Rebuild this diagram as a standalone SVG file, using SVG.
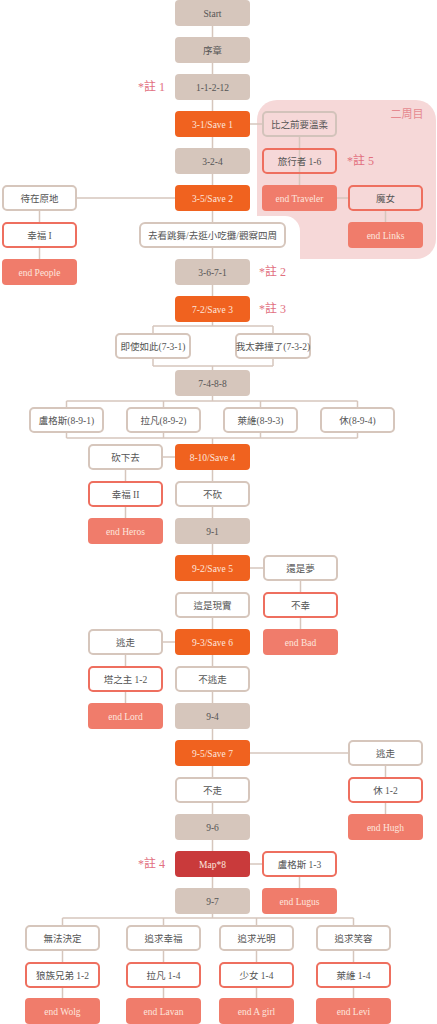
<svg xmlns="http://www.w3.org/2000/svg" width="437" height="1024" viewBox="0 0 437 1024">
<style>
.t{font-family:"Liberation Serif","Noto Sans CJK TC",serif;font-size:9.5px;text-anchor:middle;fill:#555}
.tw{font-family:"Liberation Serif","Noto Sans CJK TC",serif;font-size:9.5px;text-anchor:middle;fill:#fde6de}
.bg{fill:#d6c6bc}
.sv{fill:#f0621f}
.mp{fill:#c93a3b}
.ch{fill:#fff;stroke:#d6c6bc;stroke-width:2}
.chp{fill:none;stroke:#d3c3bb;stroke-width:2}
.ok{fill:#fff;stroke:#ee6f5f;stroke-width:2}
.okp{fill:none;stroke:#ee6f5f;stroke-width:2}
.en{fill:#f07c6b}
.note{font-family:"Liberation Serif","Noto Sans CJK TC",serif;font-size:12px;fill:#e2707f}
.c line,.c path{stroke:#d6c6bc;stroke-width:1.5;fill:none}
</style>
<rect width="437" height="1024" fill="#fff"/>
<g id="round2">
<rect x="257" y="100" width="179" height="159" rx="20" fill="#f6d8d8"/>
<rect x="240" y="216" width="60" height="60" rx="15" fill="#fff"/>
<text x="407" y="118" class="note" style="font-size:11px;fill:#e58a90" text-anchor="middle">二周目</text>
</g>
<g class="c" id="connectors">
<line x1="212.5" y1="26" x2="212.5" y2="326"/>
<line x1="153" y1="326" x2="273" y2="326"/>
<line x1="153" y1="326" x2="153" y2="333"/>
<line x1="273" y1="326" x2="273" y2="333"/>
<line x1="153" y1="359" x2="153" y2="366"/>
<line x1="273" y1="359" x2="273" y2="366"/>
<line x1="153" y1="366" x2="273" y2="366"/>
<line x1="212.5" y1="366" x2="212.5" y2="401"/>
<line x1="66.5" y1="401" x2="357.5" y2="401"/>
<line x1="66.5" y1="401" x2="66.5" y2="407"/>
<line x1="163.5" y1="401" x2="163.5" y2="407"/>
<line x1="260.5" y1="401" x2="260.5" y2="407"/>
<line x1="357.5" y1="401" x2="357.5" y2="407"/>
<line x1="66.5" y1="433" x2="66.5" y2="438"/>
<line x1="163.5" y1="433" x2="163.5" y2="438"/>
<line x1="260.5" y1="433" x2="260.5" y2="438"/>
<line x1="357.5" y1="433" x2="357.5" y2="438"/>
<line x1="66.5" y1="438" x2="357.5" y2="438"/>
<line x1="212.5" y1="438" x2="212.5" y2="918"/>
<line x1="62.5" y1="918" x2="353.5" y2="918"/>
<line x1="62.5" y1="918" x2="62.5" y2="999"/>
<line x1="163.5" y1="918" x2="163.5" y2="999"/>
<line x1="256.5" y1="918" x2="256.5" y2="999"/>
<line x1="353.5" y1="918" x2="353.5" y2="999"/>
<line x1="250" y1="124" x2="262" y2="124"/>
<line x1="299.5" y1="137" x2="299.5" y2="185"/>
<line x1="337" y1="198" x2="348" y2="198"/>
<line x1="385.5" y1="211" x2="385.5" y2="222"/>
<line x1="77" y1="198" x2="175" y2="198"/>
<line x1="39.5" y1="211" x2="39.5" y2="259"/>
<line x1="163" y1="457" x2="175" y2="457"/>
<line x1="125.5" y1="470" x2="125.5" y2="518"/>
<line x1="250" y1="568" x2="263" y2="568"/>
<line x1="300.5" y1="581" x2="300.5" y2="629"/>
<line x1="163" y1="642" x2="175" y2="642"/>
<line x1="125.5" y1="655" x2="125.5" y2="703"/>
<line x1="250" y1="753" x2="348" y2="753"/>
<line x1="385.5" y1="766" x2="385.5" y2="814"/>
<line x1="250" y1="864" x2="262" y2="864"/>
<line x1="299.5" y1="877" x2="299.5" y2="888"/>
</g>
<g id="n-start"><rect x="175" y="0" width="75" height="26" rx="4" class="bg"/><text x="212.5" y="16.5" class="t">Start</text></g>
<g id="n-prologue"><rect x="175" y="37" width="75" height="26" rx="4" class="bg"/><text x="212.5" y="53.5" class="t">序章</text></g>
<g id="n-1-1-2-12"><rect x="175" y="74" width="75" height="26" rx="4" class="bg"/><text x="212.5" y="90.5" class="t">1-1-2-12</text></g>
<g id="n-save1"><rect x="175" y="111" width="75" height="26" rx="4" class="sv"/><text x="212.5" y="127.5" class="tw">3-1/Save 1</text></g>
<g id="n-gentle"><rect x="263" y="112" width="73" height="24" rx="4" class="chp"/><text x="299.5" y="127.5" class="t">比之前要溫柔</text></g>
<g id="n-3-2-4"><rect x="175" y="148" width="75" height="26" rx="4" class="bg"/><text x="212.5" y="164.5" class="t">3-2-4</text></g>
<g id="n-traveler16"><rect x="263" y="149" width="73" height="24" rx="4" class="okp"/><text x="299.5" y="164.5" class="t">旅行者 1-6</text></g>
<g id="n-stay"><rect x="3" y="186" width="73" height="24" rx="4" class="ch"/><text x="39.5" y="201.5" class="t">待在原地</text></g>
<g id="n-save2"><rect x="175" y="185" width="75" height="26" rx="4" class="sv"/><text x="212.5" y="201.5" class="tw">3-5/Save 2</text></g>
<g id="n-end-traveler"><rect x="262" y="185" width="75" height="26" rx="4" class="en"/><text x="299.5" y="201.5" class="tw">end Traveler</text></g>
<g id="n-witch"><rect x="349" y="186" width="73" height="24" rx="4" class="okp"/><text x="385.5" y="201.5" class="t">魔女</text></g>
<g id="n-happy1"><rect x="3" y="223" width="73" height="24" rx="4" class="ok"/><text x="39.5" y="238.5" class="t">幸福 I</text></g>
<g id="n-dance"><rect x="140" y="223" width="145" height="24" rx="5" class="ch"/><text x="212.5" y="238.5" class="t">去看跳舞/去逛小吃攤/觀察四周</text></g>
<g id="n-end-links"><rect x="348" y="222" width="75" height="26" rx="4" class="en"/><text x="385.5" y="238.5" class="tw">end Links</text></g>
<g id="n-end-people"><rect x="2" y="259" width="75" height="26" rx="4" class="en"/><text x="39.5" y="275.5" class="tw">end People</text></g>
<g id="n-3-6-7-1"><rect x="175" y="259" width="75" height="26" rx="4" class="bg"/><text x="212.5" y="275.5" class="t">3-6-7-1</text></g>
<g id="n-save3"><rect x="175" y="296" width="75" height="26" rx="4" class="sv"/><text x="212.5" y="312.5" class="tw">7-2/Save 3</text></g>
<g id="n-7-3-1"><rect x="116" y="334" width="74" height="24" rx="4" class="ch"/><text x="153" y="349.5" class="t">即使如此(7-3-1)</text></g>
<g id="n-7-3-2"><rect x="236" y="334" width="74" height="24" rx="4" class="ch"/><text x="273" y="349.5" class="t">我太莽撞了(7-3-2)</text></g>
<g id="n-7-4-8-8"><rect x="175" y="370" width="75" height="26" rx="4" class="bg"/><text x="212.5" y="386.5" class="t">7-4-8-8</text></g>
<g id="n-8-9-1"><rect x="30" y="408" width="73" height="24" rx="4" class="ch"/><text x="66.5" y="423.5" class="t">盧格斯(8-9-1)</text></g>
<g id="n-8-9-2"><rect x="127" y="408" width="73" height="24" rx="4" class="ch"/><text x="163.5" y="423.5" class="t">拉凡(8-9-2)</text></g>
<g id="n-8-9-3"><rect x="224" y="408" width="73" height="24" rx="4" class="ch"/><text x="260.5" y="423.5" class="t">萊維(8-9-3)</text></g>
<g id="n-8-9-4"><rect x="321" y="408" width="73" height="24" rx="4" class="ch"/><text x="357.5" y="423.5" class="t">休(8-9-4)</text></g>
<g id="n-cut"><rect x="89" y="445" width="73" height="24" rx="4" class="ch"/><text x="125.5" y="460.5" class="t">砍下去</text></g>
<g id="n-save4"><rect x="175" y="444" width="75" height="26" rx="4" class="sv"/><text x="212.5" y="460.5" class="tw">8-10/Save 4</text></g>
<g id="n-happy2"><rect x="89" y="482" width="73" height="24" rx="4" class="ok"/><text x="125.5" y="497.5" class="t">幸福 II</text></g>
<g id="n-nocut"><rect x="176" y="482" width="73" height="24" rx="4" class="ch"/><text x="212.5" y="497.5" class="t">不砍</text></g>
<g id="n-end-heros"><rect x="88" y="518" width="75" height="26" rx="4" class="en"/><text x="125.5" y="534.5" class="tw">end Heros</text></g>
<g id="n-9-1"><rect x="175" y="518" width="75" height="26" rx="4" class="bg"/><text x="212.5" y="534.5" class="t">9-1</text></g>
<g id="n-save5"><rect x="175" y="555" width="75" height="26" rx="4" class="sv"/><text x="212.5" y="571.5" class="tw">9-2/Save 5</text></g>
<g id="n-dream"><rect x="264" y="556" width="73" height="24" rx="4" class="ch"/><text x="300.5" y="571.5" class="t">還是夢</text></g>
<g id="n-real"><rect x="176" y="593" width="73" height="24" rx="4" class="ch"/><text x="212.5" y="608.5" class="t">這是現實</text></g>
<g id="n-unhappy"><rect x="264" y="593" width="73" height="24" rx="4" class="ok"/><text x="300.5" y="608.5" class="t">不幸</text></g>
<g id="n-flee1"><rect x="89" y="630" width="73" height="24" rx="4" class="ch"/><text x="125.5" y="645.5" class="t">逃走</text></g>
<g id="n-save6"><rect x="175" y="629" width="75" height="26" rx="4" class="sv"/><text x="212.5" y="645.5" class="tw">9-3/Save 6</text></g>
<g id="n-end-bad"><rect x="263" y="629" width="75" height="26" rx="4" class="en"/><text x="300.5" y="645.5" class="tw">end Bad</text></g>
<g id="n-tower"><rect x="89" y="667" width="73" height="24" rx="4" class="ok"/><text x="125.5" y="682.5" class="t">塔之主 1-2</text></g>
<g id="n-noflee"><rect x="176" y="667" width="73" height="24" rx="4" class="ch"/><text x="212.5" y="682.5" class="t">不逃走</text></g>
<g id="n-end-lord"><rect x="88" y="703" width="75" height="26" rx="4" class="en"/><text x="125.5" y="719.5" class="tw">end Lord</text></g>
<g id="n-9-4"><rect x="175" y="703" width="75" height="26" rx="4" class="bg"/><text x="212.5" y="719.5" class="t">9-4</text></g>
<g id="n-save7"><rect x="175" y="740" width="75" height="26" rx="4" class="sv"/><text x="212.5" y="756.5" class="tw">9-5/Save 7</text></g>
<g id="n-flee2"><rect x="349" y="741" width="73" height="24" rx="4" class="ch"/><text x="385.5" y="756.5" class="t">逃走</text></g>
<g id="n-nogo"><rect x="176" y="778" width="73" height="24" rx="4" class="ch"/><text x="212.5" y="793.5" class="t">不走</text></g>
<g id="n-hugh12"><rect x="349" y="778" width="73" height="24" rx="4" class="ok"/><text x="385.5" y="793.5" class="t">休 1-2</text></g>
<g id="n-9-6"><rect x="175" y="814" width="75" height="26" rx="4" class="bg"/><text x="212.5" y="830.5" class="t">9-6</text></g>
<g id="n-end-hugh"><rect x="348" y="814" width="75" height="26" rx="4" class="en"/><text x="385.5" y="830.5" class="tw">end Hugh</text></g>
<g id="n-map"><rect x="175" y="851" width="75" height="26" rx="4" class="mp"/><text x="212.5" y="867.5" class="tw">Map*8</text></g>
<g id="n-lugus13"><rect x="263" y="852" width="73" height="24" rx="4" class="ok"/><text x="299.5" y="867.5" class="t">盧格斯 1-3</text></g>
<g id="n-9-7"><rect x="175" y="888" width="75" height="26" rx="4" class="bg"/><text x="212.5" y="904.5" class="t">9-7</text></g>
<g id="n-end-lugus"><rect x="262" y="888" width="75" height="26" rx="4" class="en"/><text x="299.5" y="904.5" class="tw">end Lugus</text></g>
<g id="n-undecided"><rect x="26" y="926" width="73" height="24" rx="4" class="ch"/><text x="62.5" y="941.5" class="t">無法決定</text></g>
<g id="n-seekhappy"><rect x="127" y="926" width="73" height="24" rx="4" class="ch"/><text x="163.5" y="941.5" class="t">追求幸福</text></g>
<g id="n-seeklight"><rect x="220" y="926" width="73" height="24" rx="4" class="ch"/><text x="256.5" y="941.5" class="t">追求光明</text></g>
<g id="n-seeksmile"><rect x="317" y="926" width="73" height="24" rx="4" class="ch"/><text x="353.5" y="941.5" class="t">追求笑容</text></g>
<g id="n-wolf"><rect x="26" y="963" width="73" height="24" rx="4" class="ok"/><text x="62.5" y="978.5" class="t">狼族兄弟 1-2</text></g>
<g id="n-lavan14"><rect x="127" y="963" width="73" height="24" rx="4" class="ok"/><text x="163.5" y="978.5" class="t">拉凡 1-4</text></g>
<g id="n-girl14"><rect x="220" y="963" width="73" height="24" rx="4" class="ok"/><text x="256.5" y="978.5" class="t">少女 1-4</text></g>
<g id="n-levi14"><rect x="317" y="963" width="73" height="24" rx="4" class="ok"/><text x="353.5" y="978.5" class="t">萊維 1-4</text></g>
<g id="n-end-wolg"><rect x="25" y="998" width="75" height="26" rx="4" class="en"/><text x="62.5" y="1014.5" class="tw">end Wolg</text></g>
<g id="n-end-lavan"><rect x="126" y="998" width="75" height="26" rx="4" class="en"/><text x="163.5" y="1014.5" class="tw">end Lavan</text></g>
<g id="n-end-agirl"><rect x="219" y="998" width="75" height="26" rx="4" class="en"/><text x="256.5" y="1014.5" class="tw">end A girl</text></g>
<g id="n-end-levi"><rect x="316" y="998" width="75" height="26" rx="4" class="en"/><text x="353.5" y="1014.5" class="tw">end Levi</text></g>
<g id="notes">
<text x="138" y="91" class="note">*註 1</text>
<text x="347" y="165" class="note">*註 5</text>
<text x="259" y="276" class="note">*註 2</text>
<text x="259" y="313" class="note">*註 3</text>
<text x="138" y="868" class="note">*註 4</text>
</g>
</svg>
